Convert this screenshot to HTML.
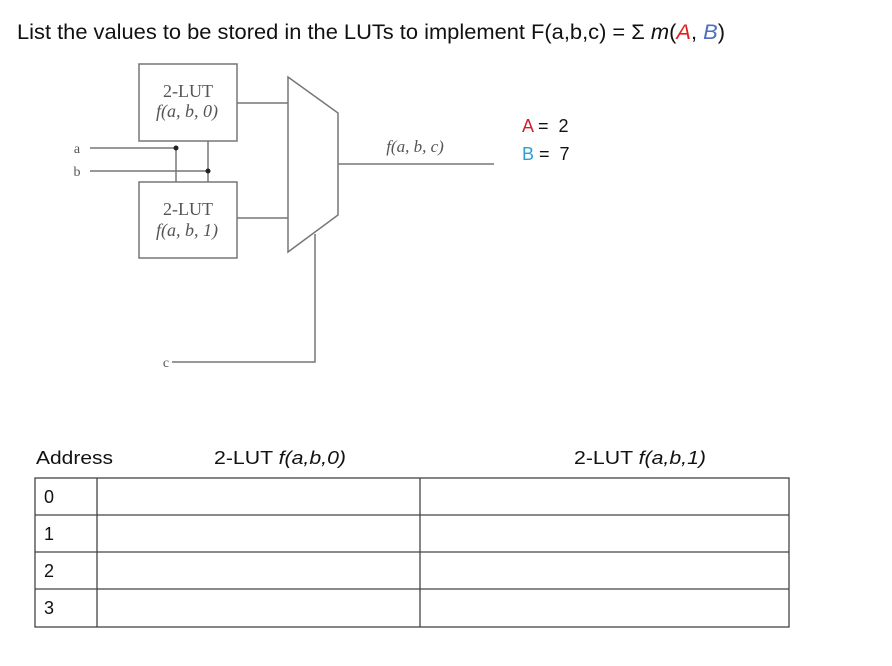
<!DOCTYPE html>
<html><head><style>html,body{margin:0;padding:0;background:#fff}svg{display:block}</style></head>
<body>
<svg width="892" height="666" xmlns="http://www.w3.org/2000/svg">
<rect width="892" height="666" fill="#fff"/>
<text x="17" y="39" font-family="Liberation Sans, sans-serif" font-size="21" fill="#111" textLength="708" lengthAdjust="spacingAndGlyphs">List the values to be stored in the LUTs to implement F(a,b,c) = Σ  <tspan font-style="italic">m</tspan>(<tspan fill="#e02020" font-style="italic">A</tspan>, <tspan fill="#4a6fc0" font-style="italic">B</tspan>)</text>
<g stroke="#777" stroke-width="1.5" fill="none">
<rect x="139" y="64" width="98" height="77"/>
<rect x="139" y="182" width="98" height="76"/>
<polygon points="288,77 338,113 338,215 288,252"/>
<line x1="237" y1="103" x2="288" y2="103"/>
<line x1="237" y1="218" x2="288" y2="218"/>
<line x1="90" y1="148" x2="176" y2="148"/>
<line x1="90" y1="171" x2="208" y2="171"/>
<line x1="176" y1="148" x2="176" y2="182"/>
<line x1="208" y1="141" x2="208" y2="182"/>
<line x1="338" y1="164" x2="494" y2="164"/>
<polyline points="315,234 315,362 172,362"/>
</g>
<circle cx="176" cy="148" r="2.5" fill="#222"/>
<circle cx="208" cy="171" r="2.5" fill="#222"/>
<g font-family="Liberation Serif, serif" fill="#555" font-size="18" text-anchor="middle">
<text x="188" y="97">2-LUT</text>
<text x="187" y="117" font-style="italic">f(a, b, 0)</text>
<text x="188" y="215">2-LUT</text>
<text x="187" y="236" font-style="italic">f(a, b, 1)</text>
<text x="415" y="152" font-style="italic" font-size="17">f(a, b, c)</text>
<text x="77" y="153" font-size="14">a</text>
<text x="77" y="176" font-size="14">b</text>
<text x="166" y="367" font-size="14">c</text>
</g>
<g font-family="Liberation Sans, sans-serif" font-size="18" fill="#111">
<text x="522" y="132" xml:space="preserve"><tspan fill="#d02030">A</tspan> =  2</text>
<text x="522" y="160" xml:space="preserve"><tspan fill="#2a9fd6">B</tspan> =  7</text>
<text x="36" y="464" textLength="77" lengthAdjust="spacingAndGlyphs">Address</text>
<text x="214" y="464" textLength="132" lengthAdjust="spacingAndGlyphs">2-LUT <tspan font-style="italic">f(a,b,0)</tspan></text>
<text x="574" y="464" textLength="132" lengthAdjust="spacingAndGlyphs">2-LUT <tspan font-style="italic">f(a,b,1)</tspan></text>
<text x="44" y="503">0</text>
<text x="44" y="540">1</text>
<text x="44" y="577">2</text>
<text x="44" y="614">3</text>
</g>
<g stroke="#444" stroke-width="1.3">
<rect x="35" y="478" width="754" height="149" fill="none"/>
<line x1="35" y1="515" x2="789" y2="515"/>
<line x1="35" y1="552" x2="789" y2="552"/>
<line x1="35" y1="589" x2="789" y2="589"/>
<line x1="97" y1="478" x2="97" y2="627"/>
<line x1="420" y1="478" x2="420" y2="627"/>
</g>
</svg>
</body></html>
